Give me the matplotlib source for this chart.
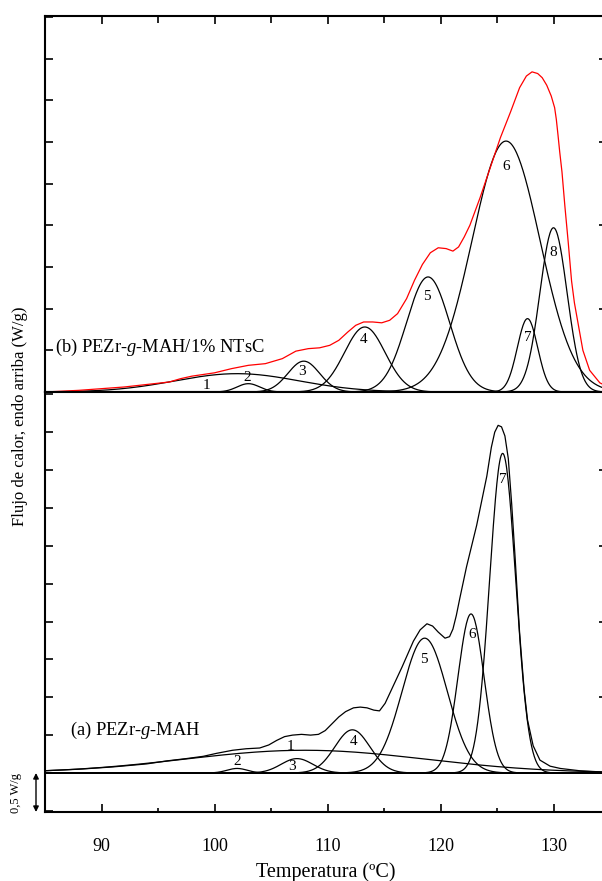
import numpy as np
import matplotlib.pyplot as plt
from matplotlib.ticker import MultipleLocator

plt.rcParams['font.family'] = ['Liberation Serif', 'DejaVu Serif']
plt.rcParams['mathtext.fontset'] = 'custom'
plt.rcParams['mathtext.rm'] = 'Liberation Serif'
plt.rcParams['mathtext.it'] = 'Liberation Serif:italic'

# (b) PEZr-g-MAH/1% NTsC : componentes gaussianos (centro ºC, altura W/g, sigma ºC)
picos_b = ['1', '2', '3', '4', '5', '6', '7', '8']
centro_b = [102.0, 103.0, 107.9, 113.3, 118.9, 125.8, 127.7, 130.0]
altura_b = [0.22, 0.10, 0.37, 0.78, 1.38, 3.01, 0.88, 1.97]
sigma_b = [5.5, 1.0, 1.4, 1.8, 1.9, 3.0, 0.9, 1.2]

temp_exp_b = [85.0, 88.0, 90.0, 92.0, 94.0, 96.0, 97.0, 98.0, 100.0, 101.5,
              103.0, 104.5, 106.0, 107.2, 108.3, 109.3, 110.2, 111.0, 111.8, 112.5,
              113.2, 114.0, 114.8, 115.5, 116.2, 117.0, 117.7, 118.4, 119.1, 119.8,
              120.5, 121.1, 121.6, 122.1, 122.6, 123.5, 124.4, 125.3, 126.2, 127.0,
              127.6, 128.1, 128.6, 129.0, 129.4, 129.8, 130.1, 130.25, 130.4, 130.55,
              130.75, 131.0, 131.3, 131.6, 131.85, 132.1, 132.6, 133.2, 134.1, 134.7]
flujo_exp_b = [0.00, 0.02, 0.04, 0.06, 0.09, 0.12, 0.16, 0.19, 0.23, 0.28,
               0.32, 0.34, 0.40, 0.49, 0.52, 0.53, 0.56, 0.62, 0.72, 0.80,
               0.84, 0.84, 0.83, 0.86, 0.94, 1.12, 1.34, 1.53, 1.67, 1.73,
               1.72, 1.69, 1.74, 1.86, 2.00, 2.33, 2.69, 3.05, 3.36, 3.65,
               3.79, 3.84, 3.82, 3.77, 3.68, 3.55, 3.41, 3.27, 3.08, 2.88,
               2.64, 2.24, 1.80, 1.33, 1.07, 0.88, 0.50, 0.26, 0.11, 0.07]

# (a) PEZr-g-MAH
picos_a = ['1', '2', '3', '4', '5', '6', '7']
centro_a = [108.0, 102.0, 107.3, 112.2, 118.6, 122.7, 125.5]
altura_a = [0.30, 0.06, 0.19, 0.57, 1.78, 2.10, 4.22]
sigma_a = [10.7, 0.9, 1.4, 1.55, 2.0, 1.15, 1.15]

temp_exp_a = [85.0, 88.0, 91.0, 94.0, 95.8, 97.5, 99.0, 100.2, 101.6, 102.8,
              104.0, 104.8, 105.5, 106.2, 106.9, 107.7, 108.5, 109.2, 109.8, 110.4,
              111.0, 111.6, 112.3, 112.9, 113.5, 114.1, 114.6, 115.1, 115.6, 116.1,
              116.6, 117.1, 117.6, 118.2, 118.8, 119.3, 119.8, 120.4, 120.8, 121.1,
              121.4, 121.7, 122.3, 123.2, 124.1, 124.5, 124.8, 125.1, 125.4, 125.7,
              126.0, 126.3, 126.6, 127.0, 127.4, 127.7, 128.2, 128.8, 129.7, 130.6,
              132.3, 134.7]
flujo_exp_a = [0.03, 0.05, 0.08, 0.12, 0.16, 0.19, 0.22, 0.26, 0.30, 0.32,
               0.33, 0.37, 0.43, 0.48, 0.50, 0.51, 0.50, 0.51, 0.56, 0.65,
               0.74, 0.81, 0.86, 0.87, 0.86, 0.83, 0.82, 0.92, 1.08, 1.24,
               1.40, 1.57, 1.74, 1.89, 1.97, 1.94, 1.86, 1.78, 1.80, 1.90,
               2.08, 2.30, 2.72, 3.27, 3.92, 4.30, 4.50, 4.59, 4.57, 4.45,
               4.15, 3.55, 2.85, 1.85, 1.10, 0.70, 0.36, 0.17, 0.09, 0.06,
               0.03, 0.01]

# posicion de los numeros de cada pico
etiq_x_b = [99.3, 102.9, 107.7, 113.2, 118.8, 125.8, 127.7, 130.0]
etiq_y_b = [0.08, 0.17, 0.25, 0.63, 1.14, 2.71, 0.65, 1.67]
etiq_x_a = [106.7, 102.0, 106.9, 112.3, 118.5, 122.8, 125.5]
etiq_y_a = [0.35, 0.15, 0.09, 0.41, 1.50, 1.83, 3.88]


def gauss(t, c, h, s):
    return h * np.exp(-0.5 * ((t - c) / s) ** 2)


t = np.linspace(85, 135, 800)

fig = plt.figure(figsize=(6.02, 8.81), dpi=100)
W, H = 602, 881
ax_b = fig.add_axes([45 / W, 1 - 392 / H, 562 / W, 376 / H])
ax_a = fig.add_axes([45 / W, 1 - 812 / H, 562 / W, 420 / H])

xmax = 85 + 562 / 11.3

# panel superior (b)
for c, h, s in zip(centro_b, altura_b, sigma_b):
    ax_b.plot(t, gauss(t, c, h, s), color='black', lw=0.9)
ax_b.plot(temp_exp_b, flujo_exp_b, color='red', lw=0.9)
for lab, x, y in zip(picos_b, etiq_x_b, etiq_y_b):
    ax_b.text(x, y, lab, fontsize=11, ha='center', va='center')
ax_b.text(85.9, 0.54, '(b) PEZr-$g$-MAH/1% NTsC', fontsize=13.3, va='center')
ax_b.set_xlim(85, xmax)
ax_b.set_ylim(0, 4.51)

# panel inferior (a)
for c, h, s in zip(centro_a, altura_a, sigma_a):
    ax_a.plot(t, gauss(t, c, h, s), color='black', lw=0.9)
ax_a.plot(temp_exp_a, flujo_exp_a, color='black', lw=0.9)
ax_a.axhline(0, color='black', lw=1.3)
for lab, x, y in zip(picos_a, etiq_x_a, etiq_y_a):
    ax_a.text(x, y, lab, fontsize=11, ha='center', va='center')
ax_a.text(87.2, 0.56, '(a) PEZr-$g$-MAH', fontsize=13.3, va='center')
ax_a.set_xlim(85, xmax)
ax_a.set_ylim(-0.515, 5.03)

# ejes y marcas
for ax in (ax_b, ax_a):
    for sp in ax.spines.values():
        sp.set_linewidth(1.5)
    ax.xaxis.set_major_locator(MultipleLocator(10))
    ax.xaxis.set_minor_locator(MultipleLocator(5))
    ax.yaxis.set_major_locator(MultipleLocator(0.5))
    ax.tick_params(which='both', direction='in', width=1.2, right=False)
    ax.tick_params(axis='y', which='major', length=6, labelleft=False)
    ax.tick_params(axis='y', which='minor', length=0)
    der = ax.twinx()
    der.set_ylim(ax.get_ylim())
    der.set_yticks([1, 2, 3, 4])
    der.tick_params(direction='in', length=6, width=1.2, labelright=False)
    for sp in der.spines.values():
        sp.set_visible(False)

ax_b.tick_params(axis='x', which='both', top=True, bottom=False,
                 labelbottom=False, labeltop=False)
ax_b.tick_params(axis='x', which='major', length=6)
ax_b.tick_params(axis='x', which='minor', length=5)
ax_a.tick_params(axis='x', which='both', top=False, bottom=True)
ax_a.tick_params(axis='x', which='major', length=6, labelsize=13, pad=19)
ax_a.tick_params(axis='x', which='minor', length=3)

# escala 0,5 W/g
ax_a.annotate('', xy=(36 / W, 0), xytext=(36 / W, -0.515),
              xycoords=('figure fraction', 'data'),
              textcoords=('figure fraction', 'data'),
              arrowprops=dict(arrowstyle='<|-|>', color='black', lw=1,
                              mutation_scale=8, shrinkA=0, shrinkB=0),
              annotation_clip=False)
ax_a.annotate('0,5 W/g', xy=(16 / W, -0.26), xycoords=('figure fraction', 'data'),
              rotation=90, fontsize=9, ha='center', va='center',
              annotation_clip=False)

fig.text(20 / W, 1 - 416 / H, 'Flujo de calor, endo arriba (W/g)', rotation=90,
         fontsize=12, ha='center', va='center')
fig.text(326 / W, 1 - 872 / H, 'Temperatura (ºC)', fontsize=14.5,
         ha='center', va='center')

fig.savefig('out.png', dpi=100)
